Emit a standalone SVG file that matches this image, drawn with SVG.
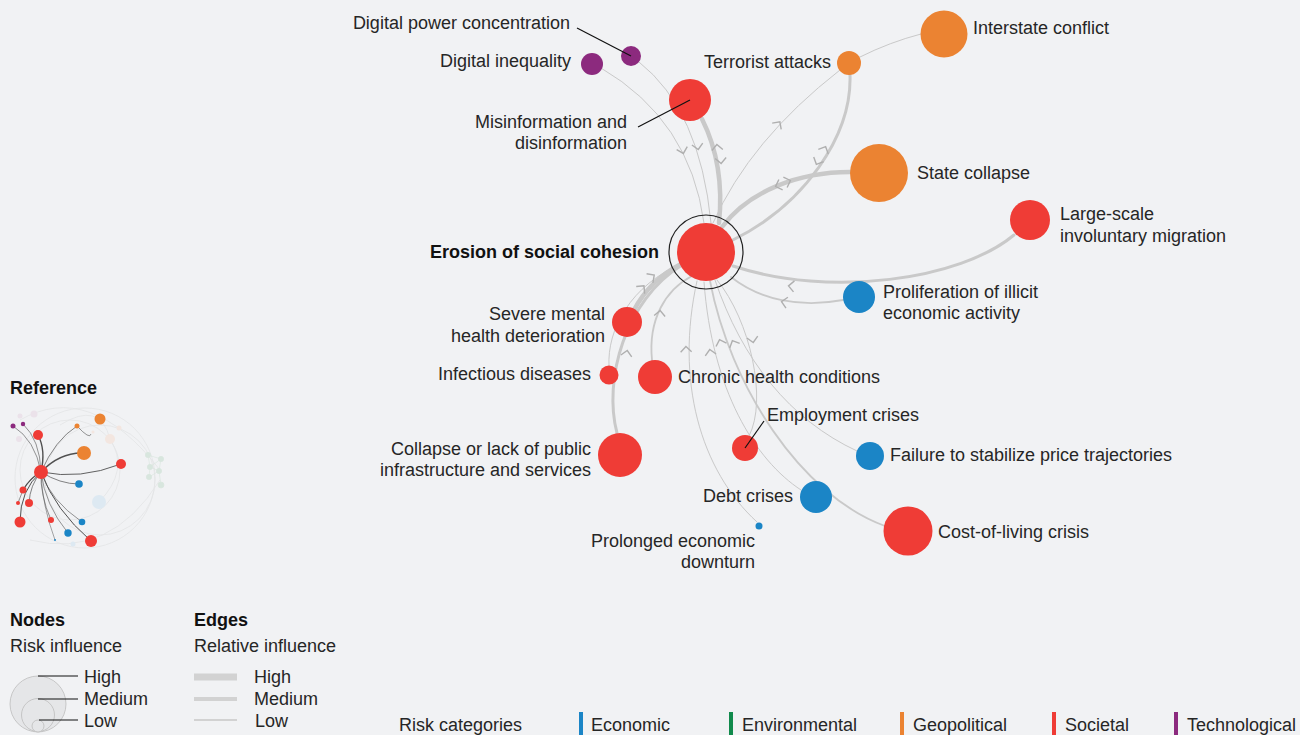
<svg xmlns="http://www.w3.org/2000/svg" xmlns:xlink="http://www.w3.org/1999/xlink" width="1300" height="735" viewBox="0 0 1300 735">
<style>
text{font-family:"Liberation Sans",Arial,sans-serif;font-size:18px;fill:#262626}
.b{font-weight:bold;fill:#111}
.e{fill:none;stroke:#c9c9c9;stroke-linecap:round}
.w1{stroke-width:1}
.w2{stroke-width:1.8}
.w3{stroke-width:3}
.w4{stroke-width:4.5}
.ld{stroke:#111;stroke-width:1.2;fill:none}
.soc{fill:#ef3c36}
.geo{fill:#eb8332}
.eco{fill:#1b85c6}
.tec{fill:#8c2a7e}
.env{fill:#118a4c}
.tl{fill:none;stroke:#505050}
.tf{fill:none;stroke:#e3e4e6;stroke-width:0.8}
</style>
<defs>
<path id="chev" d="M-4,-5.5 L1.5,0 L-4,5.5" fill="none" stroke="#afafaf" stroke-width="1.4"/>
</defs>
<rect width="1300" height="735" fill="#f1f2f4"/>

<g id="connectors">
<path class="e w1" d="M601,68 Q690,120 704,223"/>
<path class="e w1" d="M639,62 Q700,110 711,223"/>
<path class="e w4" d="M702,119 Q725,165 719,223"/>
<path class="e w1" d="M713,223 Q750,140 840,70"/>
<path class="e w3" d="M850,75 C852,135 805,205 731,241"/>
<path class="e w1" d="M860,57 Q890,42 921,34"/>
<path class="e w4" d="M850,172 C800,172 750,190 722,227"/>
<path class="e w3" d="M1014,235 C960,280 830,298 733,266"/>
<path class="e w2" d="M843,300 C800,308 760,300 731,277"/>
<path class="e w4" d="M634,310 Q650,280 681,264"/>
<path class="e w3" d="M617,433 C603,380 625,300 682,265"/>
<path class="e w1" d="M609,366 C607,330 630,285 683,263"/>
<path class="e w2" d="M652,360 C648,320 665,290 692,276"/>
<path class="e w1" d="M757,522 C700,470 675,380 697,281"/>
<path class="e w1" d="M717,280 C750,320 768,400 749,436"/>
<path class="e w1" d="M801,490 C755,460 712,390 704,282"/>
<path class="e w2" d="M885,526 C800,495 730,385 710,281"/>
<path class="e w1" d="M857,451 C790,420 742,360 715,280"/>
<g id="arrowheads">
<use xlink:href="#chev" transform="translate(683,152) rotate(75)"/>
<use xlink:href="#chev" transform="translate(698,148) rotate(80)"/>
<use xlink:href="#chev" transform="translate(717,146) rotate(-95)"/>
<use xlink:href="#chev" transform="translate(721,162) rotate(85)"/>
<use xlink:href="#chev" transform="translate(779,123) rotate(-55)"/>
<use xlink:href="#chev" transform="translate(825,148) rotate(-65)"/>
<use xlink:href="#chev" transform="translate(817,163) rotate(115)"/>
<use xlink:href="#chev" transform="translate(789,181) rotate(-20)"/>
<use xlink:href="#chev" transform="translate(777,186) rotate(160)"/>
<use xlink:href="#chev" transform="translate(790,286) rotate(185)"/>
<use xlink:href="#chev" transform="translate(783,302) rotate(190)"/>
<use xlink:href="#chev" transform="translate(653,276) rotate(-35)"/>
<use xlink:href="#chev" transform="translate(643,287) rotate(-50)"/>
<use xlink:href="#chev" transform="translate(627,352) rotate(-80)"/>
<use xlink:href="#chev" transform="translate(660,312) rotate(-85)"/>
<use xlink:href="#chev" transform="translate(686,348) rotate(-92)"/>
<use xlink:href="#chev" transform="translate(710,351) rotate(-100)"/>
<use xlink:href="#chev" transform="translate(720,341) rotate(-108)"/>
<use xlink:href="#chev" transform="translate(733,342) rotate(-115)"/>
<use xlink:href="#chev" transform="translate(753,341) rotate(80)"/>
</g>
</g>

<g id="n-erosion">
<circle cx="706" cy="252" r="37" fill="none" stroke="#222" stroke-width="1.2"/>
<circle class="soc" cx="706" cy="252" r="29"/>
<text class="b" x="659" y="258" text-anchor="end">Erosion of social cohesion</text>
</g>
<g id="n-digital-power">
<circle class="tec" cx="631" cy="56" r="10"/>
<line class="ld" x1="577" y1="28" x2="631" y2="56"/>
<text x="570" y="29" text-anchor="end">Digital power concentration</text>
</g>
<g id="n-digital-inequality">
<circle class="tec" cx="592" cy="64" r="11"/>
<text x="571" y="67" text-anchor="end">Digital inequality</text>
</g>
<g id="n-misinformation">
<circle class="soc" cx="690" cy="100" r="21"/>
<line class="ld" x1="638" y1="127" x2="690" y2="100"/>
<text x="627" y="128" text-anchor="end">Misinformation and</text>
<text x="627" y="149" text-anchor="end">disinformation</text>
</g>
<g id="n-terrorist">
<circle class="geo" cx="849" cy="63" r="12"/>
<text x="831" y="68" text-anchor="end">Terrorist attacks</text>
</g>
<g id="n-interstate">
<circle class="geo" cx="944" cy="34" r="23.5"/>
<text x="973" y="34">Interstate conflict</text>
</g>
<g id="n-state-collapse">
<circle class="geo" cx="879" cy="173" r="29"/>
<text x="917" y="179">State collapse</text>
</g>
<g id="n-migration">
<circle class="soc" cx="1030" cy="220" r="20"/>
<text x="1060" y="220">Large-scale</text>
<text x="1060" y="242">involuntary migration</text>
</g>
<g id="n-illicit">
<circle class="eco" cx="859" cy="297" r="16"/>
<text x="883" y="298">Proliferation of illicit</text>
<text x="883" y="319">economic activity</text>
</g>
<g id="n-mental">
<circle class="soc" cx="627" cy="322" r="15"/>
<text x="605" y="320" text-anchor="end">Severe mental</text>
<text x="605" y="342" text-anchor="end">health deterioration</text>
</g>
<g id="n-infectious">
<circle class="soc" cx="609" cy="375" r="9.5"/>
<text x="591" y="380" text-anchor="end">Infectious diseases</text>
</g>
<g id="n-chronic">
<circle class="soc" cx="655" cy="377" r="17"/>
<text x="678" y="383">Chronic health conditions</text>
</g>
<g id="n-infrastructure">
<circle class="soc" cx="620" cy="455" r="22"/>
<text x="591" y="455" text-anchor="end">Collapse or lack of public</text>
<text x="591" y="476" text-anchor="end">infrastructure and services</text>
</g>
<g id="n-employment">
<circle class="soc" cx="745" cy="448" r="13"/>
<line class="ld" x1="745" y1="448" x2="764" y2="421"/>
<text x="767" y="421">Employment crises</text>
</g>
<g id="n-price">
<circle class="eco" cx="870" cy="456" r="14"/>
<text x="890" y="461">Failure to stabilize price trajectories</text>
</g>
<g id="n-debt">
<circle class="eco" cx="816" cy="497" r="16"/>
<text x="793" y="502" text-anchor="end">Debt crises</text>
</g>
<g id="n-cost">
<circle class="soc" cx="908" cy="531" r="24.5"/>
<text x="938" y="538">Cost-of-living crisis</text>
</g>
<g id="n-downturn">
<circle class="eco" cx="759" cy="526" r="3.5"/>
<text x="755" y="547" text-anchor="end">Prolonged economic</text>
<text x="755" y="568" text-anchor="end">downturn</text>
</g>

<g id="reference-thumbnail">
<text class="b" x="10" y="394">Reference</text>
<circle class="tf" cx="85" cy="478" r="70"/>
<circle class="tf" cx="70" cy="470" r="50"/>
<circle class="tf" cx="100" cy="480" r="55"/>
<path class="tf" d="M20,420 Q90,380 160,470"/>
<path class="tf" d="M30,540 Q110,560 160,480"/>
<path class="tf" d="M110,439 Q130,470 99,502"/>
<path class="tf" d="M60,425 Q100,400 110,439"/>
<path class="tl" stroke-width="0.6" d="M13,426 Q35,440 41,472"/>
<path class="tl" stroke-width="0.6" d="M23,424 Q40,440 41,472"/>
<path class="tl" stroke-width="1.4" d="M38,435 Q46,450 41,472"/>
<path class="tl" stroke-width="0.7" d="M77,426 Q55,440 41,472"/>
<path class="tl" stroke-width="1.4" d="M84,453 Q60,452 41,472"/>
<path class="tl" stroke-width="0.9" d="M121,464 Q80,480 41,472"/>
<path class="tl" stroke-width="0.7" d="M79,484 Q60,484 41,472"/>
<path class="tl" stroke-width="1.2" d="M23,490 Q30,478 41,472"/>
<path class="tl" stroke-width="0.7" d="M29,503 Q30,485 41,472"/>
<path class="tl" stroke-width="0.6" d="M18,503 Q25,480 41,472"/>
<path class="tl" stroke-width="1" d="M20,522 Q20,490 41,472"/>
<path class="tl" stroke-width="0.6" d="M51,520 Q40,495 41,472"/>
<path class="tl" stroke-width="0.6" d="M68,533 Q45,505 41,472"/>
<path class="tl" stroke-width="0.6" d="M82,522 Q50,500 41,472"/>
<path class="tl" stroke-width="1" d="M91,541 Q55,510 41,472"/>
<path class="tl" stroke-width="0.5" d="M55,540 Q42,505 41,472"/>
<path class="tl" stroke-width="0.6" d="M77,426 Q90,440 91,434"/>
<circle cx="20" cy="416" r="2.5" fill="#ebe2ea"/>
<circle cx="34" cy="414" r="3.5" fill="#ebe2ea"/>
<circle cx="19" cy="439" r="3" fill="#ebe2ea"/>
<circle cx="110" cy="439" r="5" fill="#f3e6e0"/>
<circle cx="119" cy="428" r="2.5" fill="#f3e6e0"/>
<circle cx="93" cy="432" r="1.5" fill="#f3e6e0"/>
<circle cx="99" cy="502" r="7" fill="#dde9f2"/>
<circle cx="73" cy="544" r="2.5" fill="#dde9f2"/>
<g fill="#d8e6de" stroke="#d8e6de" stroke-width="0.6">
<line x1="148" y1="455" x2="161" y2="459"/><line x1="148" y1="455" x2="150" y2="467"/><line x1="161" y1="459" x2="159" y2="471"/><line x1="150" y1="467" x2="159" y2="471"/><line x1="150" y1="467" x2="161" y2="459"/><line x1="150" y1="467" x2="149" y2="477"/><line x1="159" y1="471" x2="149" y2="477"/><line x1="159" y1="471" x2="161" y2="485"/>
<circle cx="148" cy="455" r="2.7"/><circle cx="161" cy="459" r="2.7"/><circle cx="150" cy="467" r="2.7"/><circle cx="159" cy="471" r="2.7"/><circle cx="149" cy="477" r="2.7"/><circle cx="161" cy="485" r="3"/>
</g>
<circle class="tec" cx="13" cy="426" r="2.5"/>
<circle class="tec" cx="23" cy="424" r="2.2"/>
<circle class="soc" cx="38" cy="435" r="5"/>
<circle class="geo" cx="77" cy="426" r="2.5"/>
<circle class="geo" cx="100" cy="419" r="5.5"/>
<circle class="geo" cx="84" cy="453" r="7"/>
<circle class="soc" cx="121" cy="464" r="5"/>
<circle class="eco" cx="79" cy="484" r="3.8"/>
<circle class="soc" cx="41" cy="472" r="7"/>
<circle class="soc" cx="23" cy="490" r="3.5"/>
<circle class="soc" cx="18" cy="503" r="2"/>
<circle class="soc" cx="29" cy="503" r="4"/>
<circle class="soc" cx="20" cy="522" r="5.5"/>
<circle class="soc" cx="51" cy="520" r="3"/>
<circle class="eco" cx="82" cy="522" r="3.3"/>
<circle class="eco" cx="68" cy="533" r="3.7"/>
<circle class="soc" cx="91" cy="541" r="6"/>
<circle class="eco" cx="55" cy="540" r="1"/>
</g>

<g id="legend-nodes">
<text class="b" x="10" y="626">Nodes</text>
<text x="10" y="652">Risk influence</text>
<g fill="#e5e6e8" stroke="#bdbdbd" stroke-width="0.8">
<circle cx="38" cy="704" r="28"/>
<circle cx="38" cy="715" r="16.5"/>
<circle cx="38" cy="726" r="6"/>
</g>
<g stroke="#111" stroke-width="1.1">
<line x1="38" y1="676" x2="78" y2="676"/>
<line x1="38" y1="699" x2="78" y2="699"/>
<line x1="39" y1="720" x2="78" y2="720"/>
</g>
<text x="84" y="683">High</text>
<text x="84" y="705">Medium</text>
<text x="84" y="727">Low</text>
</g>

<g id="legend-edges">
<text class="b" x="194" y="626">Edges</text>
<text x="194" y="652">Relative influence</text>
<g stroke="#d2d2d2">
<line x1="194" y1="677" x2="237" y2="677" stroke-width="7"/>
<line x1="194" y1="699" x2="237" y2="699" stroke-width="4"/>
<line x1="194" y1="720" x2="237" y2="720" stroke-width="2"/>
</g>
<text x="254" y="683">High</text>
<text x="254" y="705">Medium</text>
<text x="255" y="727">Low</text>
</g>

<g id="legend-categories">
<text x="399" y="731">Risk categories</text>
<rect class="eco" x="579" y="712" width="4" height="23"/>
<text x="591" y="731">Economic</text>
<rect class="env" x="729" y="712" width="4" height="23"/>
<text x="742" y="731">Environmental</text>
<rect class="geo" x="900" y="712" width="4" height="23"/>
<text x="913" y="731">Geopolitical</text>
<rect class="soc" x="1052" y="712" width="4" height="23"/>
<text x="1065" y="731">Societal</text>
<rect class="tec" x="1174" y="712" width="4" height="23"/>
<text x="1187" y="731">Technological</text>
</g>
</svg>
